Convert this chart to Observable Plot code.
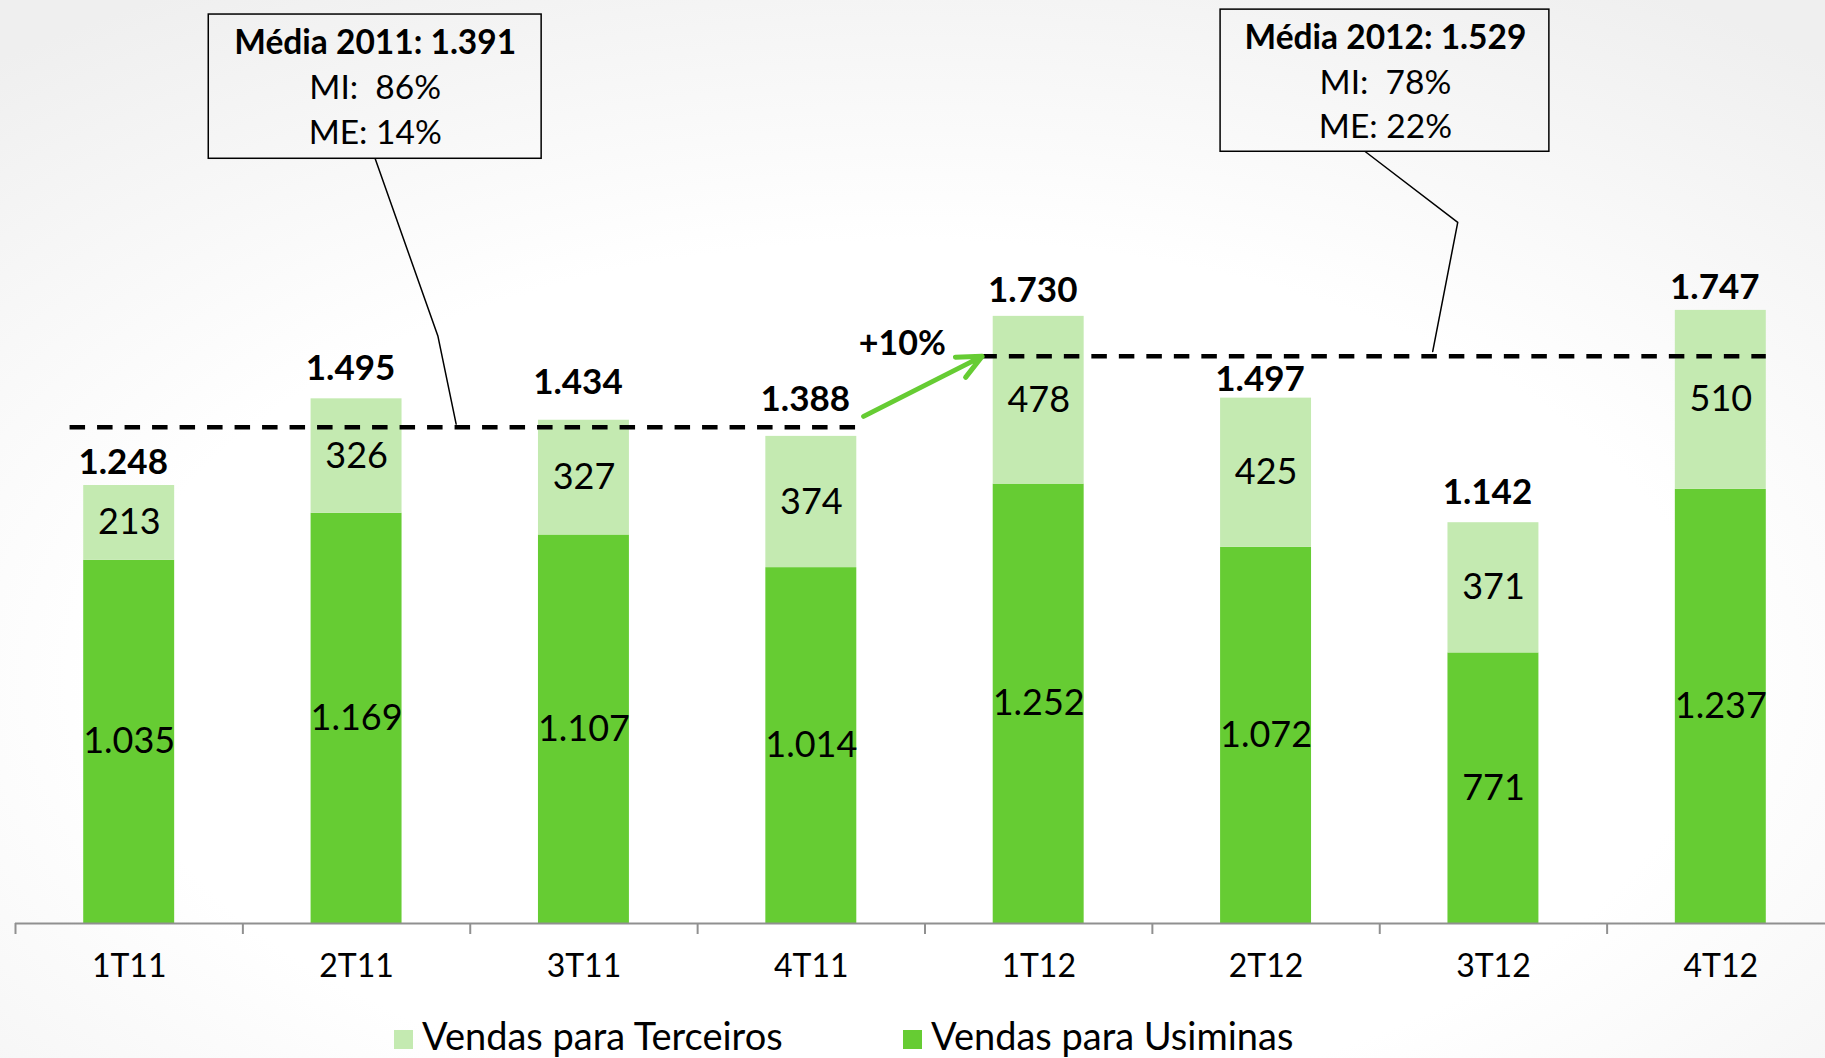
<!DOCTYPE html>
<html><head><meta charset="utf-8">
<script src="https://cdn.jsdelivr.net/npm/d3@7"></script>
<script src="https://cdn.jsdelivr.net/npm/@observablehq/plot@0.6"></script>
<style>
html,body{margin:0;padding:0;width:1825px;height:1058px;overflow:hidden;}
body{background:radial-gradient(ellipse 80% 75% at 50% 64%, #ffffff 55%, #efefef 100%);font-family:Lato, sans-serif;}
#wrap{position:relative;width:1825px;height:1058px;}
#chart svg{display:block;}
#legend{position:absolute;left:394px;top:1016px;display:flex;font-size:38px;line-height:38px;height:38px;color:#000;}
.item{display:flex;align-items:center;}
.sw{width:19px;height:19px;margin-right:9px;position:relative;top:4px;}
</style></head>
<body><div id="wrap"><div id="chart"></div><div id="legend"></div></div>
<script>
// ---- data ----
const quarters  = ["1T11","2T11","3T11","4T11","1T12","2T12","3T12","4T12"];
const usiminas  = [1035, 1169, 1107, 1014, 1252, 1072, 771, 1237];
const terceiros = [213, 326, 327, 374, 478, 425, 371, 510];
const seriesNames  = ["Vendas para Terceiros", "Vendas para Usiminas"];
const seriesColors = ["#c4eab1", "#66cc33"];

// ---- annotations (in data units) ----
const avgTitles   = ["Média 2011: 1.391", "Média 2012: 1.529"];
const avgMI       = ["MI:\u00a0 86%", "MI:\u00a0 78%"];
const avgME       = ["ME: 14%", "ME: 22%"];
const avgLevel    = [1414, 1616];
const avgFrom     = [-0.26, 3.75];
const avgTo       = [3.2, 7.2];
const boxLeft     = [0.35, 4.80];
const boxRight    = [1.814, 6.246];
const boxBottom   = [2179, 2199];
const boxTop      = [2590, 2604];
const boxCenter   = [1.082, 5.525];
const boxLineY    = [[2509, 2379, 2251], [2522, 2393, 2268]];
const leaderX     = [[1.082, 1.358, 1.438], [5.437, 5.843, 5.733]];
const leaderY     = [[2179, 1673, 1423], [2199, 1998, 1630]];
const growthLabel = "+10%";
const growthPos   = [3.40, 1652];
const arrowFrom   = [3.23, 1445];
const arrowTo     = [3.751, 1616];

// layout: lift of each total label above its bar (px)
const totalLabelLift = [23, 30, 37, 37, 25.5, 18.5, 30, 23];

// ---- build ----
const fmt = d3.formatLocale({decimal: ",", thousands: ".", grouping: [3], currency: ["", ""]}).format(",d");

const rows = quarters.flatMap((q, i) => [
  {i, s: seriesNames[1], y1: 0, y2: usiminas[i]},
  {i, s: seriesNames[0], y1: usiminas[i], y2: usiminas[i] + terceiros[i]}
]);
const totals = quarters.map((q, i) => ({i, t: usiminas[i] + terceiros[i]}));
const avgRows = avgLevel.map((v, k) => ({v, a: avgFrom[k], b: avgTo[k]}));
const boxes = boxLeft.map((l, k) => ({x1: l, x2: boxRight[k], y1: boxBottom[k], y2: boxTop[k]}));
const boxTitle = boxCenter.map((c, k) => ({x: c, y: boxLineY[k][0], t: avgTitles[k]}));
const boxBody = boxCenter.flatMap((c, k) => [
  {x: c, y: boxLineY[k][1], t: avgMI[k]},
  {x: c, y: boxLineY[k][2], t: avgME[k]}
]);
const leaders = leaderX.flatMap((xs, k) => xs.map((x, j) => ({g: k, x, y: leaderY[k][j]})));
const boundaries = d3.range(-0.5, quarters.length + 0.5, 1);

const chart = Plot.plot({
  width: 1825,
  height: 1000,
  marginLeft: 15,
  marginRight: -9,
  marginTop: 0,
  marginBottom: 77,
  style: {fontFamily: "Lato, sans-serif", fontSize: "32px", background: "transparent", overflow: "visible"},
  x: {domain: [-0.5, quarters.length - 0.5], label: null},
  y: {domain: [0, 2630], axis: null},
  color: {domain: seriesNames, range: seriesColors},
  marks: [
    Plot.rect(rows, {x1: d => d.i - 0.2, x2: d => d.i + 0.2, y1: "y1", y2: "y2", fill: "s"}),
    Plot.ruleY([0], {stroke: "#909090", strokeWidth: 2}),
    Plot.axisX({ticks: boundaries, tickSize: 11, tickFormat: () => "", stroke: "#909090", strokeWidth: 2}),
    Plot.axisX({ticks: d3.range(quarters.length), tickFormat: i => quarters[i], tickSize: 0, tickPadding: 31, fontSize: 32, fill: "#000"}),
    Plot.text(rows, {x: "i", y: d => (d.y1 + d.y2) / 2, text: d => fmt(d.y2 - d.y1), fontSize: 36, fill: "#000"}),
    ...totals.map((d, k) => Plot.text([d], {x: "i", y: "t", text: d => fmt(d.t), dy: -totalLabelLift[k], dx: -6, fontSize: 35, fontWeight: "bold", fill: "#000"})),
    Plot.ruleY(avgRows, {y: "v", x1: "a", x2: "b", stroke: "#000", strokeWidth: 4.5, strokeDasharray: "15.5,12"}),
    Plot.line(leaders, {x: "x", y: "y", z: "g", stroke: "#000", strokeWidth: 1.5}),
    Plot.rect(boxes, {x1: "x1", x2: "x2", y1: "y1", y2: "y2", fill: "none", stroke: "#000", strokeWidth: 1.5}),
    Plot.text(boxTitle, {x: "x", y: "y", text: "t", fontSize: 33.5, fontWeight: "bold", fill: "#000"}),
    Plot.text(boxBody, {x: "x", y: "y", text: "t", fontSize: 33.5, fill: "#000"}),
    Plot.arrow([{x1: arrowFrom[0], y1: arrowFrom[1], x2: arrowTo[0], y2: arrowTo[1]}],
      {x1: "x1", y1: "y1", x2: "x2", y2: "y2", stroke: "#66cc33", strokeWidth: 5, headAngle: 50, headLength: 8}),
    Plot.text([growthLabel], {x: () => growthPos[0], y: () => growthPos[1], text: d => d, fontSize: 34, fontWeight: "bold", fill: "#000"})
  ]
});
document.getElementById("chart").appendChild(chart);

// legend
const legend = document.getElementById("legend");
seriesNames.forEach((name, k) => {
  const item = document.createElement("div");
  item.className = "item";
  if (k === 0) item.style.width = "509px";
  const sw = document.createElement("div");
  sw.className = "sw";
  sw.style.background = seriesColors[k];
  const label = document.createElement("span");
  label.textContent = name;
  item.appendChild(sw); item.appendChild(label);
  legend.appendChild(item);
});
</script>
</body></html>
